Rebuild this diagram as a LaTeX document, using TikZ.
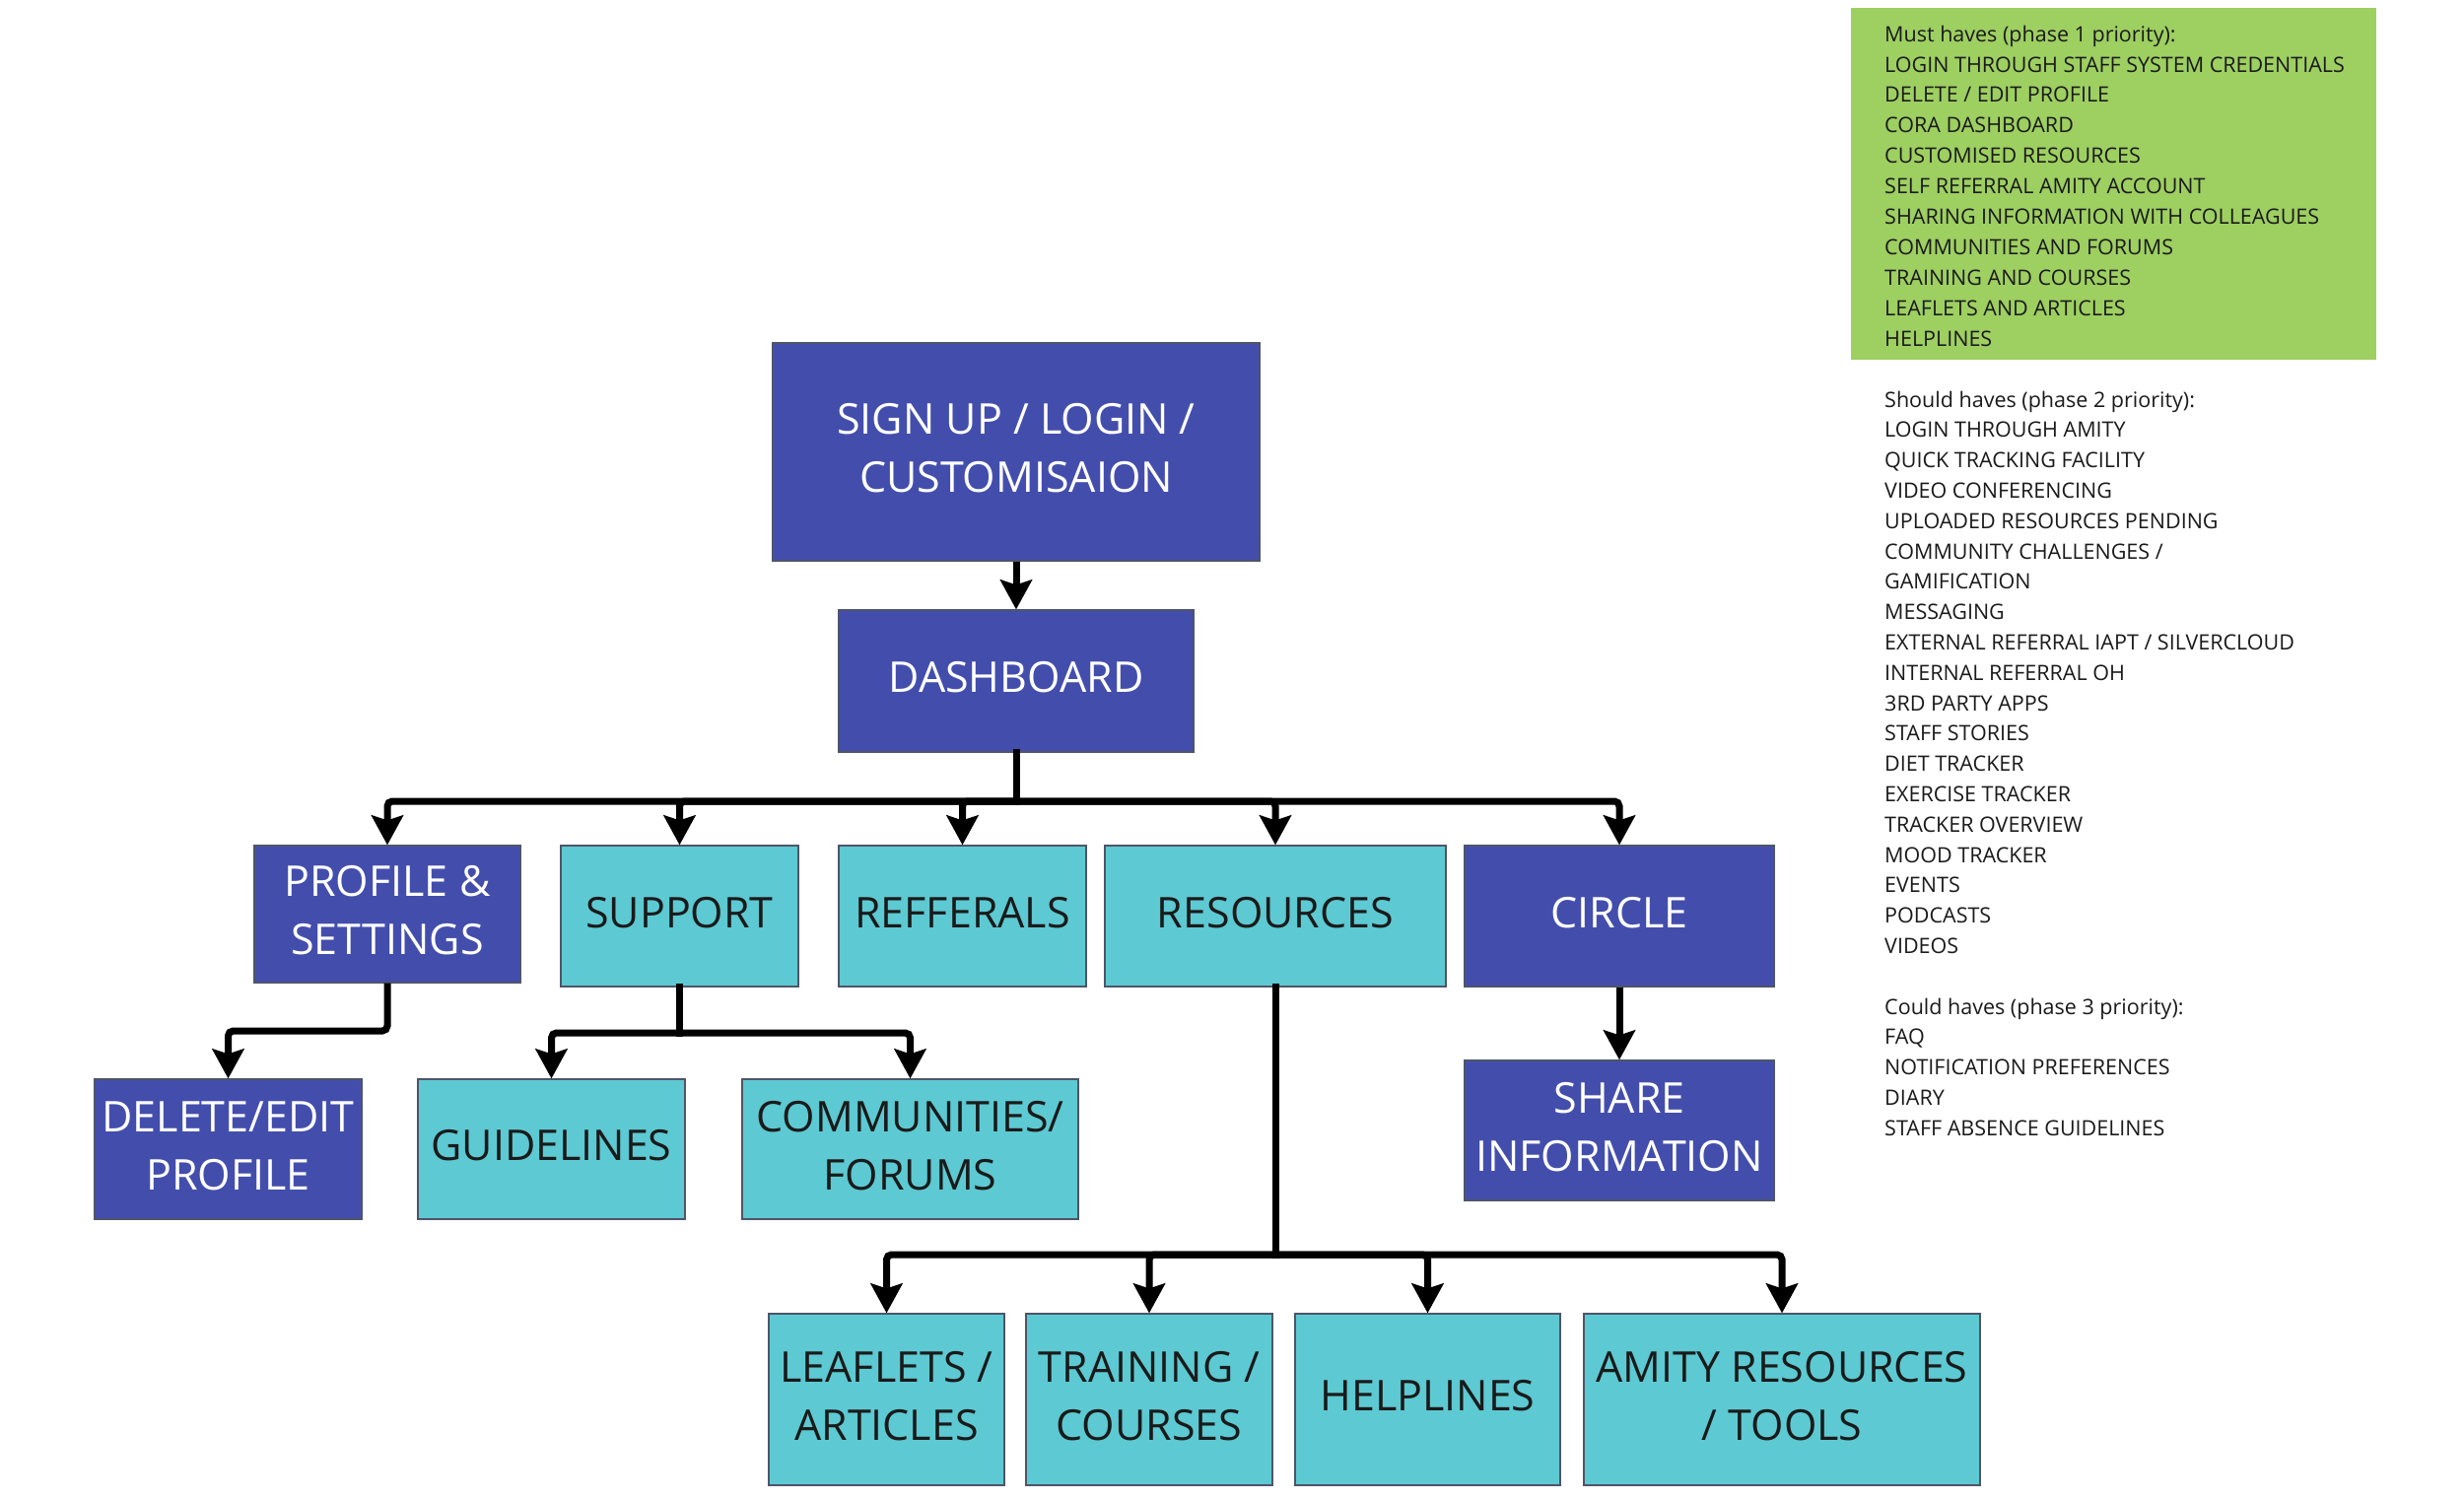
\documentclass[tikz,border=0pt]{standalone}
\usepackage{fontspec}
\setmainfont{Open Sans}
\usetikzlibrary{arrows.meta}
\definecolor{dblue}{HTML}{434EAC}
\definecolor{tealbx}{HTML}{5DC9D2}
\definecolor{lgreen}{HTML}{9ECF61}
\definecolor{edgec}{HTML}{4F5468}
\definecolor{ink}{HTML}{1A1A1A}
\newcommand\boxtxt[1]{\begin{tabular}{@{}c@{}}#1\end{tabular}}
\begin{document}
\begin{tikzpicture}[x=1pt,y=-1pt,
  basebox/.style={draw=edgec, line width=1.2pt, inner sep=0pt,
    font=\fontsize{43}{59}\selectfont},
  bluebox/.style={basebox, fill=dblue, text=white},
  tealbox/.style={basebox, fill=tealbx, text=ink},
  sz/.style 2 args={minimum width=#1pt, minimum height=#2pt},
  trunk/.style={line width=7pt, line cap=rect},
  conn/.style={line width=7pt, rounded corners=5pt,
    -{Stealth[length=30pt,width=32pt,inset=5pt]}},
  item/.style={anchor=base west, inner sep=0pt, font=\fontsize{21.5}{26}\selectfont, text=ink}
]
\useasboundingbox (0,0) rectangle (2500,1522);

% nodes
\node[bluebox, sz={494}{221}] (sign) at (1031,458.5) {\boxtxt{SIGN UP / LOGIN /\\CUSTOMISAION}};
\node[bluebox, sz={360}{144}] (dash) at (1031,691) {\boxtxt{DASHBOARD}};

\node[bluebox, sz={270}{139}] (prof) at (393,927.5) {\boxtxt{PROFILE \&\\SETTINGS}};
\node[tealbox, sz={241}{143}] (supp) at (689.5,929.5) {\boxtxt{SUPPORT}};
\node[tealbox, sz={251}{143}] (refr) at (976.5,929.5) {\boxtxt{REFFERALS}};
\node[tealbox, sz={346}{143}] (res) at (1294,929.5) {\boxtxt{RESOURCES}};
\node[bluebox, sz={314}{143}] (circ) at (1643,929.5) {\boxtxt{CIRCLE}};

\node[bluebox, sz={271}{142}] (del) at (231.5,1166) {\boxtxt{DELETE/EDIT\\PROFILE}};
\node[tealbox, sz={271}{142}] (guide) at (559.5,1166) {\boxtxt{GUIDELINES}};
\node[tealbox, sz={341}{142}] (comm) at (923.5,1166) {\boxtxt{COMMUNITIES/\\FORUMS}};
\node[bluebox, sz={314}{142}] (share) at (1643,1147) {\boxtxt{SHARE\\INFORMATION}};

\node[tealbox, sz={239}{174}] (leaf) at (899.5,1420) {\boxtxt{LEAFLETS /\\ARTICLES}};
\node[tealbox, sz={250}{174}] (train) at (1166,1420) {\boxtxt{TRAINING /\\COURSES}};
\node[tealbox, sz={269}{174}] (help) at (1448.5,1420) {\boxtxt{HELPLINES}};
\node[tealbox, sz={402}{174}] (amity) at (1808,1420) {\boxtxt{AMITY RESOURCES\\/ TOOLS}};

% connectors
\draw[conn] (sign.south) -- (dash.north);

\coordinate (b1) at (1031,813);
\draw[trunk] (dash.south) -- (b1);
\foreach \n in {prof,supp,refr,res,circ} \draw[conn] (b1) -| (\n.north);

\coordinate (pd) at (393,1046);
\draw[conn] (prof.south) -- (pd) -| (del.north);

\coordinate (sd) at (689.5,1048);
\draw[trunk] (supp.south) -- (sd);
\draw[conn] (sd) -| (guide.north);
\draw[conn] (sd) -| (comm.north);

\draw[conn] (circ.south) -- (share.north);

\coordinate (rd) at (1294,1273);
\draw[trunk] (res.south) -- (rd);
\foreach \n in {leaf,train,help,amity} \draw[conn] (rd) -| (\n.north);

% priority lists
\node[fill=lgreen, inner sep=0pt, minimum width=533pt, minimum height=357pt, anchor=north west] (green) at (1878,8) {};
\foreach \t [count=\i from 0] in {Must haves (phase 1 priority):,LOGIN THROUGH STAFF SYSTEM CREDENTIALS,DELETE / EDIT PROFILE,CORA DASHBOARD,CUSTOMISED RESOURCES,SELF REFERRAL AMITY ACCOUNT,SHARING INFORMATION WITH COLLEAGUES,COMMUNITIES AND FORUMS,TRAINING AND COURSES,LEAFLETS AND ARTICLES,HELPLINES}
  \node[item] (m\i) at (1912,42.2+30.9*\i) {\t};

\foreach \t [count=\i from 0] in {Should haves (phase 2 priority):,LOGIN THROUGH AMITY,QUICK TRACKING FACILITY,VIDEO CONFERENCING,UPLOADED RESOURCES PENDING,COMMUNITY CHALLENGES /,GAMIFICATION,MESSAGING,EXTERNAL REFERRAL IAPT / SILVERCLOUD,INTERNAL REFERRAL OH,3RD PARTY APPS,STAFF STORIES,DIET TRACKER,EXERCISE TRACKER,TRACKER OVERVIEW,MOOD TRACKER,EVENTS,PODCASTS,VIDEOS}
  \node[item] (s\i) at (1912,413+30.8*\i) {\t};

\foreach \t [count=\i from 0] in {Could haves (phase 3 priority):,FAQ,NOTIFICATION PREFERENCES,DIARY,STAFF ABSENCE GUIDELINES}
  \node[item] (c\i) at (1912,1029+30.8*\i) {\t};
\end{tikzpicture}
\end{document}
